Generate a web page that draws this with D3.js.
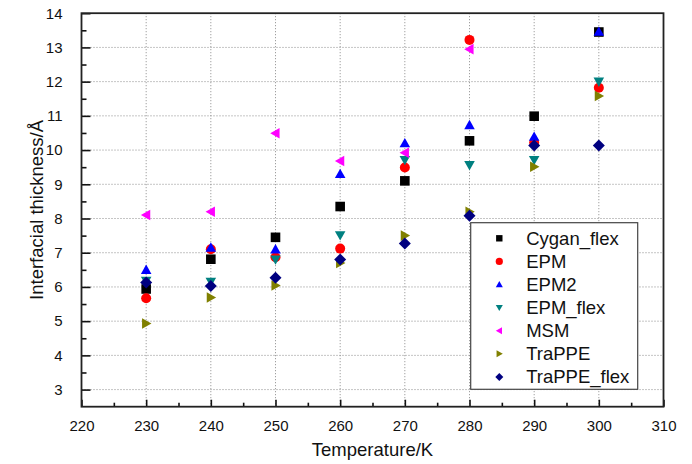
<!DOCTYPE html>
<html>
<head>
<meta charset="utf-8">
<script src="https://cdn.jsdelivr.net/npm/d3@7"></script>
<style>
  html, body { margin: 0; padding: 0; background: #fff; }
  svg { display: block; }
  text { font-family: Arial, "Liberation Sans", sans-serif; fill: #111; }
</style>
</head>
<body>
<div id="chart"></div>
<script>
// Temperatures (K) at which each water model was sampled
const temperatures = [230, 240, 250, 260, 270, 280, 290, 300];

// Interfacial thickness (Å) per model; null where no value exists
const cyganFlex  = [5.94, 6.81, 7.45, 8.35, 9.10, 10.27, 10.99, 13.45];
const epm        = [5.67, 7.10, 6.87, 7.12, 9.49, 13.22, 10.22, 11.82];
const epm2       = [6.50, 7.15, 7.10, 9.30, 10.20, 10.73, 10.39, 13.46];
const epmFlex    = [6.18, 6.15, 6.80, 7.51, 9.71, 9.56, 9.71, 12.00];
const msm        = [8.10, 8.20, 10.49, 9.68, 9.92, 12.95, null, null];
const trappe     = [4.93, 5.69, 6.04, 6.70, 7.50, 8.20, 9.51, 11.58];
const trappeFlex = [6.13, 6.03, 6.27, 6.80, 7.27, 8.08, 10.13, 10.13];

const seriesNames  = ["Cygan_flex", "EPM", "EPM2", "EPM_flex", "MSM", "TraPPE", "TraPPE_flex"];
const seriesValues = [cyganFlex, epm, epm2, epmFlex, msm, trappe, trappeFlex];
const seriesColors = ["#000000", "#ff0000", "#0000ff", "#008080", "#ff00ff", "#808000", "#000080"];
const seriesShapes = ["square", "circle", "up", "down", "left", "right", "diamond"];

const xTicks = [220, 230, 240, 250, 260, 270, 280, 290, 300, 310];
const yTicks = [3, 4, 5, 6, 7, 8, 9, 10, 11, 12, 13, 14];

const W = 692, H = 464;
const margin = { left: 81.5, right: 28.5, top: 13.2, bottom: 57.3 };
const pw = W - margin.left - margin.right;
const ph = H - margin.top - margin.bottom;

const svg = d3.select("#chart").append("svg").attr("width", W).attr("height", H);
const g = svg.append("g").attr("transform", `translate(${margin.left},${margin.top})`);

const x = d3.scaleLinear().domain([220, 310]).range([0, pw]);
const y = d3.scaleLinear().domain([2.5, 14]).range([ph, 0]);

// Marker outline for each shape, centred on the origin
function shapePath(type, r) {
  switch (type) {
    case "square": return `M${-r},${-r}H${r}V${r}H${-r}Z`;
    case "circle": return `M${r},0A${r},${r} 0 1,1 ${-r},0A${r},${r} 0 1,1 ${r},0Z`;
    case "up":    return `M0,${-r * 1.1}L${r * 1.1},${r * 0.85}L${-r * 1.1},${r * 0.85}Z`;
    case "down":  return `M0,${r * 1.1}L${r * 1.1},${-r * 0.85}L${-r * 1.1},${-r * 0.85}Z`;
    case "left":  return `M${-r * 1.1},0L${r * 0.85},${-r * 1.1}L${r * 0.85},${r * 1.1}Z`;
    case "right": return `M${r * 1.1},0L${-r * 0.85},${-r * 1.1}L${-r * 0.85},${r * 1.1}Z`;
    case "diamond": return `M0,${-r * 1.25}L${r * 1.25},0L0,${r * 1.25}L${-r * 1.25},0Z`;
  }
}

// Dotted grid at the major ticks inside the frame
const gridX = temperatures;
const gridY = yTicks.filter(v => v < 14);
g.append("g").selectAll("line").data(gridX).join("line")
  .attr("x1", d => x(d)).attr("x2", d => x(d)).attr("y1", 0).attr("y2", ph)
  .attr("stroke", "#8a8a8a").attr("stroke-width", 1).attr("stroke-dasharray", "1,2");
g.append("g").selectAll("line").data(gridY).join("line")
  .attr("x1", 0).attr("x2", pw).attr("y1", d => y(d)).attr("y2", d => y(d))
  .attr("stroke", "#8a8a8a").attr("stroke-width", 1).attr("stroke-dasharray", "1,2");

// Axes with inward major and minor ticks
const xMinor = d3.range(225, 310, 10);
const yMinor = d3.range(3.5, 14, 1);

const xAxis = g.append("g").attr("transform", `translate(0,${ph})`)
  .call(d3.axisBottom(x).tickValues(xTicks).tickSize(-7).tickPadding(14).tickFormat(d3.format("d")));
const xAxisMinor = g.append("g").attr("transform", `translate(0,${ph})`)
  .call(d3.axisBottom(x).tickValues(xMinor).tickSize(-4).tickFormat(""));
const yAxis = g.append("g")
  .call(d3.axisLeft(y).tickValues(yTicks).tickSize(-9).tickPadding(19).tickFormat(d3.format("d")));
const yAxisMinor = g.append("g")
  .call(d3.axisLeft(y).tickValues(yMinor).tickSize(-5).tickFormat(""));

[xAxis, xAxisMinor, yAxis, yAxisMinor].forEach(a => {
  a.select(".domain").remove();
  a.selectAll(".tick line").attr("stroke", "#111").attr("stroke-width", 1.6);
  a.selectAll(".tick text").attr("font-size", 15).attr("fill", "#111")
    .attr("font-family", "Arial, 'Liberation Sans', sans-serif");
});

// Plot frame
g.append("rect").attr("x", 0).attr("y", 0).attr("width", pw).attr("height", ph)
  .attr("fill", "none").attr("stroke", "#222").attr("stroke-width", 1.8);

// Data markers, one group per model
seriesNames.forEach((name, i) => {
  const pts = temperatures.map((t, j) => ({ t, v: seriesValues[i][j] })).filter(p => p.v != null);
  g.append("g").selectAll("path").data(pts).join("path")
    .attr("transform", p => `translate(${x(p.t)},${y(p.v)})`)
    .attr("d", shapePath(seriesShapes[i], seriesShapes[i] === "circle" ? 5 : 4.8))
    .attr("fill", seriesColors[i]);
});

// Legend box in the lower right of the plot
const legend = svg.append("g").attr("transform", "translate(470.7,222.7)");
legend.append("rect").attr("width", 167).attr("height", 166.6)
  .attr("fill", "#fff").attr("stroke", "#444").attr("stroke-width", 1.2);
seriesNames.forEach((name, i) => {
  const row = legend.append("g").attr("transform", `translate(0,${15.6 + i * 23.1})`);
  row.append("path").attr("transform", "translate(28.6,0)")
    .attr("d", shapePath(seriesShapes[i], seriesShapes[i] === "circle" ? 3.6 : 3.2))
    .attr("fill", seriesColors[i]);
  row.append("text").attr("x", 55.5).attr("y", 6.5).attr("font-size", 18.5).text(name);
});

// Axis titles
svg.append("text").attr("x", margin.left + pw / 2).attr("y", 456)
  .attr("text-anchor", "middle").attr("font-size", 18.5).text("Temperature/K");
svg.append("text").attr("transform", `translate(43,${margin.top + ph / 2}) rotate(-90)`)
  .attr("text-anchor", "middle").attr("font-size", 18.5).text("Interfacial thickness/Å");
</script>
</body>
</html>
